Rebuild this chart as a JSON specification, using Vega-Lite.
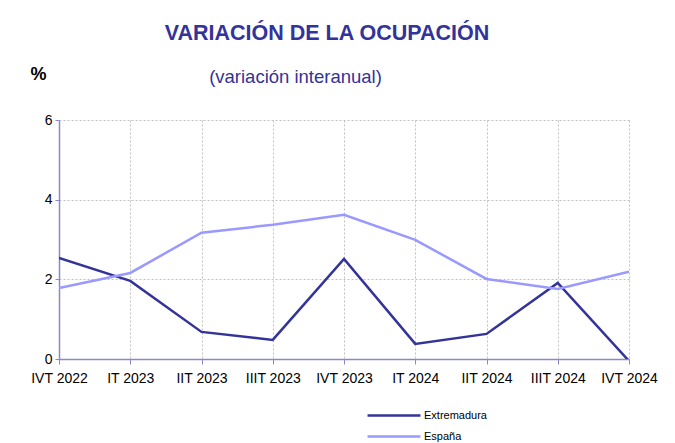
{
  "$schema": "https://vega.github.io/schema/vega-lite/v6.json",
  "width": 570,
  "height": 239,
  "autosize": {"type": "none"},
  "padding": {"left": 59, "top": 120, "right": 46, "bottom": 84},
  "background": "white",
  "title": {
    "text": "VARIACIÓN DE LA OCUPACIÓN",
    "anchor": "middle",
    "frame": "group",
    "dx": -17,
    "offset": 21,
    "font": "Liberation Sans",
    "fontSize": 21.5,
    "fontWeight": "bold",
    "color": "#333399"
  },
  "data": {
    "values": [
      {"q": "IVT 2022", "serie": "Extremadura", "v": 2.54},
      {"q": "IT 2023", "serie": "Extremadura", "v": 1.96},
      {"q": "IIT 2023", "serie": "Extremadura", "v": 0.68},
      {"q": "IIIT 2023", "serie": "Extremadura", "v": 0.48},
      {"q": "IVT 2023", "serie": "Extremadura", "v": 2.51},
      {"q": "IT 2024", "serie": "Extremadura", "v": 0.38},
      {"q": "IIT 2024", "serie": "Extremadura", "v": 0.63},
      {"q": "IIIT 2024", "serie": "Extremadura", "v": 1.91},
      {"q": "IVT 2024", "serie": "Extremadura", "v": -0.05},
      {"q": "IVT 2022", "serie": "España", "v": 1.78},
      {"q": "IT 2023", "serie": "España", "v": 2.16},
      {"q": "IIT 2023", "serie": "España", "v": 3.17},
      {"q": "IIIT 2023", "serie": "España", "v": 3.37},
      {"q": "IVT 2023", "serie": "España", "v": 3.62},
      {"q": "IT 2024", "serie": "España", "v": 2.99},
      {"q": "IIT 2024", "serie": "España", "v": 2.01},
      {"q": "IIIT 2024", "serie": "España", "v": 1.76},
      {"q": "IVT 2024", "serie": "España", "v": 2.19}
    ]
  },
  "mark": {"type": "line", "strokeWidth": 2.5, "clip": true},
  "encoding": {
    "x": {
      "field": "q",
      "type": "ordinal",
      "sort": null,
      "scale": {"type": "point", "padding": 0},
      "axis": {
        "title": "(variación interanual)",
        "titleX": 236,
        "titleY": -277,
        "titleAnchor": "middle",
        "titleBaseline": "alphabetic",
        "titleFont": "Liberation Sans",
        "titleFontSize": 18.5,
        "titleFontWeight": "normal",
        "titleColor": "#333399",
        "labelAngle": 0,
        "labelFont": "Liberation Sans",
        "labelFontSize": 14,
        "labelColor": "#000000",
        "labelPadding": 7,
        "domainColor": "#8888cc",
        "domainWidth": 1.5,
        "tickColor": "#8888cc",
        "tickSize": 5,
        "grid": true,
        "gridColor": "#c0c0c0",
        "gridDash": [2, 2],
        "gridWidth": 1
      }
    },
    "y": {
      "field": "v",
      "type": "quantitative",
      "scale": {"domain": [0, 6], "nice": false},
      "axis": {
        "values": [0, 2, 4, 6],
        "title": "%",
        "titleAngle": 0,
        "titleX": -21,
        "titleY": -41,
        "titleAlign": "center",
        "titleBaseline": "alphabetic",
        "titleFont": "Liberation Sans",
        "titleFontSize": 18,
        "titleFontWeight": "bold",
        "titleColor": "#000000",
        "labelFont": "Liberation Sans",
        "labelFontSize": 14,
        "labelColor": "#000000",
        "labelPadding": 3,
        "domainColor": "#8888cc",
        "domainWidth": 1.5,
        "tickColor": "#8888cc",
        "tickSize": 4,
        "grid": true,
        "gridColor": "#c0c0c0",
        "gridDash": [2, 2],
        "gridWidth": 1
      }
    },
    "color": {
      "field": "serie",
      "type": "nominal",
      "sort": ["Extremadura", "España"],
      "scale": {"domain": ["Extremadura", "España"], "range": ["#333399", "#9999ff"]},
      "legend": {
        "title": null,
        "orient": "none",
        "legendX": 307,
        "legendY": 290,
        "symbolType": "stroke",
        "symbolSize": 2800,
        "symbolStrokeWidth": 2.5,
        "clipHeight": 11,
        "labelFont": "Liberation Sans",
        "labelFontSize": 11,
        "labelColor": "#000000",
        "rowPadding": 9,
        "labelOffset": 2
      }
    }
  },
  "config": {
    "view": {"stroke": null}
  }
}
